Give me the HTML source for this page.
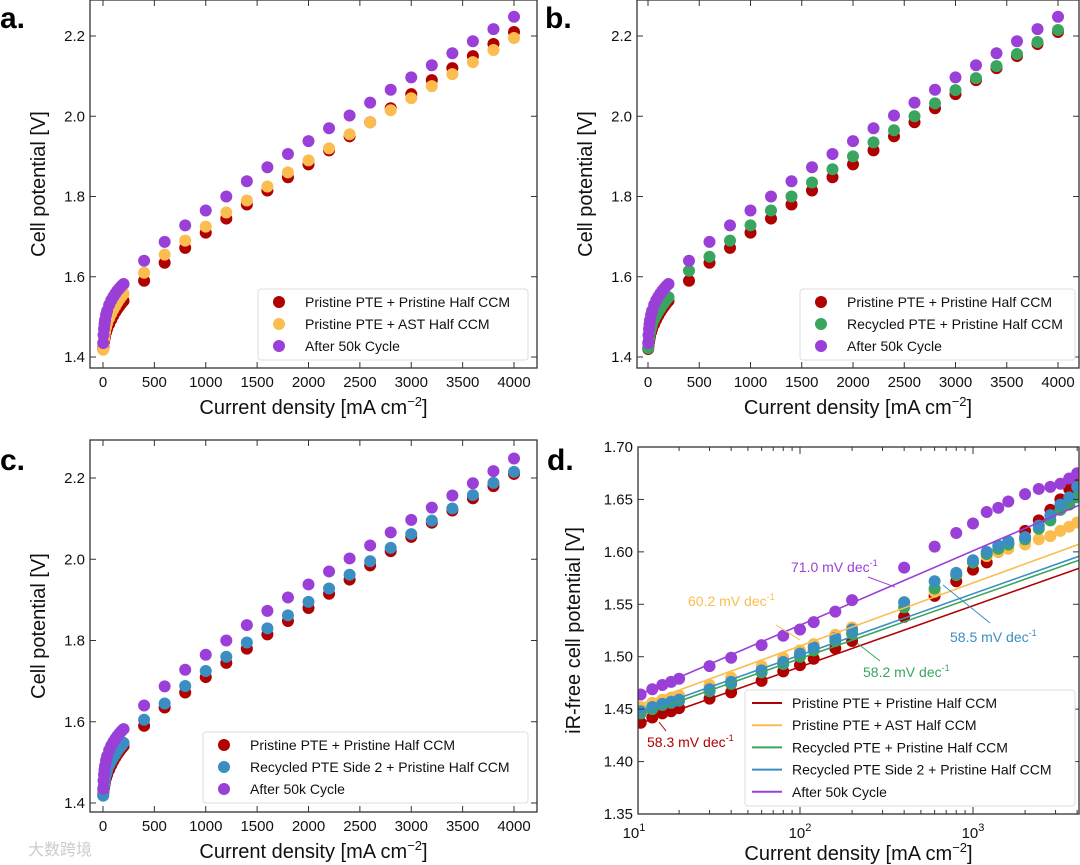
<!DOCTYPE html>
<html><head><meta charset="utf-8"><style>
html,body{margin:0;padding:0;background:#fff;}
svg{display:block;font-family:"Liberation Sans","Noto Sans CJK SC",sans-serif;}
</style></head><body>
<svg id="fig" width="1080" height="865" viewBox="0 0 1080 865" xmlns="http://www.w3.org/2000/svg"></svg>
<script>
// ---------- data ----------
const lowX = [2,5,10,15,20,30,40,60,80,100,120,140,160,180,200];
const highX = [400,600,800,1000,1200,1400,1600,1800,2000,2200,2400,2600,2800,3000,3200,3400,3600,3800,4000];
const xTicksLin = [0,500,1000,1500,2000,2500,3000,3500,4000];
const yTicksLin = [1.4,1.6,1.8,2.0,2.2];
const redLow = [1.420,1.428,1.437,1.445,1.452,1.462,1.470,1.482,1.493,1.503,1.512,1.520,1.527,1.534,1.540];
const redHigh = [1.590,1.635,1.672,1.710,1.745,1.780,1.815,1.848,1.880,1.915,1.950,1.985,2.020,2.055,2.090,2.120,2.150,2.180,2.210];
const yelLow = [1.418,1.432,1.444,1.454,1.462,1.474,1.484,1.497,1.508,1.518,1.527,1.536,1.544,1.551,1.558];
const yelHigh = [1.610,1.655,1.690,1.725,1.760,1.790,1.825,1.860,1.890,1.920,1.955,1.985,2.015,2.045,2.075,2.105,2.135,2.165,2.195];
const purLow = [1.435,1.455,1.470,1.482,1.492,1.505,1.515,1.530,1.541,1.550,1.558,1.565,1.571,1.577,1.582];
const purHigh = [1.640,1.687,1.728,1.765,1.800,1.838,1.873,1.906,1.938,1.970,2.002,2.034,2.066,2.097,2.127,2.157,2.187,2.217,2.248];
const grnLow = [1.422,1.434,1.445,1.454,1.461,1.472,1.481,1.494,1.504,1.513,1.521,1.529,1.536,1.543,1.549];
const grnHigh = [1.615,1.650,1.690,1.728,1.765,1.800,1.835,1.868,1.900,1.935,1.965,2.000,2.032,2.065,2.095,2.125,2.155,2.185,2.215];
const bluLow = [1.418,1.432,1.443,1.452,1.460,1.471,1.480,1.493,1.503,1.512,1.520,1.528,1.535,1.541,1.548];
const bluHigh = [1.605,1.645,1.688,1.725,1.760,1.795,1.830,1.862,1.895,1.928,1.962,1.995,2.028,2.062,2.095,2.125,2.158,2.188,2.215];
// panel d (Tafel)
const dX = [10,12,14,16,18,20,30,40,60,80,100,120,160,200,400,600,800,1000,1200,1400,1600,2000,2400,2800,3200,3600,4000,4500];
const dRed = [1.432,1.437,1.442,1.446,1.448,1.451,1.460,1.466,1.477,1.486,1.492,1.498,1.508,1.515,1.538,1.558,1.572,1.583,1.590,1.600,1.608,1.620,1.630,1.640,1.650,1.660,1.668,1.680];
const dYel = [1.448,1.452,1.456,1.459,1.461,1.463,1.473,1.480,1.491,1.499,1.506,1.512,1.521,1.528,1.552,1.562,1.578,1.590,1.596,1.600,1.603,1.607,1.612,1.615,1.620,1.624,1.628,1.633];
const dGrn = [1.441,1.446,1.450,1.454,1.456,1.458,1.467,1.474,1.485,1.493,1.500,1.506,1.515,1.522,1.547,1.565,1.578,1.590,1.598,1.603,1.607,1.612,1.622,1.630,1.640,1.645,1.652,1.660];
const dBlu = [1.443,1.448,1.452,1.455,1.457,1.459,1.469,1.476,1.487,1.495,1.503,1.509,1.518,1.526,1.552,1.572,1.580,1.592,1.600,1.606,1.610,1.614,1.625,1.635,1.645,1.652,1.662,1.670];
const dPur = [1.459,1.464,1.469,1.473,1.476,1.479,1.491,1.499,1.511,1.520,1.526,1.533,1.543,1.554,1.585,1.605,1.618,1.627,1.638,1.642,1.648,1.655,1.660,1.662,1.665,1.670,1.675,1.692];
const slopes = [58.3,60.2,58.2,58.5,71.0];
const intercepts = [1.432,1.450,1.440,1.443,1.459];
const dXTicks = [10,100,1000];
const dYTicks = [1.35,1.40,1.45,1.50,1.55,1.60,1.65,1.70];

const C = {red:'#b00000',yel:'#fbbd4f',grn:'#3aa55e',blu:'#3a8ec2',pur:'#9a3fd8'};
const NS='http://www.w3.org/2000/svg';
const svg=document.getElementById('fig');
function mk(tag,attrs,parent){const e=document.createElementNS(NS,tag);for(const k in attrs)e.setAttribute(k,attrs[k]);(parent||svg).appendChild(e);return e;}
function txt(s,x,y,size,attrs,parent){const t=mk('text',Object.assign({x:x,y:y,'font-size':size,fill:'#111'},attrs||{}),parent);t.textContent=s;return t;}

function linPanel(P){
  const g=mk('g',{});
  
  
  const sx=v=>P.x0+(v-0)*(P.x4000-P.x0)/4000;
  const sy=v=>P.y14+(v-1.4)*(P.y22-P.y14)/0.8;
  const f=mk('rect',{x:P.L,y:P.T,width:P.R-P.L,height:P.B-P.T,fill:'none',stroke:'#333','stroke-width':1.3},g);
  
  xTicksLin.forEach(v=>{const X=sx(v);
    mk('line',{x1:X,x2:X,y1:P.B,y2:P.B-6,stroke:'#333'},g);mk('line',{x1:X,x2:X,y1:P.T,y2:P.T+6,stroke:'#333'},g);
    const t=txt(String(v),X,P.B+19,15,{'text-anchor':'middle'},g);});
  yTicksLin.forEach(v=>{const Y=sy(v);
    mk('line',{x1:P.L,x2:P.L+6,y1:Y,y2:Y,stroke:'#333'},g);mk('line',{x1:P.R,x2:P.R-6,y1:Y,y2:Y,stroke:'#333'},g);
    const t=txt(v.toFixed(1),P.L-5,Y+5,15,{'text-anchor':'end'},g);});
  const xt=txt('',(P.L+P.R)/2,P.B+46,20,{'text-anchor':'middle'},g);
  xt.innerHTML='Current density [mA cm<tspan dy="-8" font-size="13">−2</tspan><tspan dy="8">]</tspan>';
  
  const yt=txt('Cell potential [V]',0,0,20,{'text-anchor':'middle',transform:`translate(${P.L-45},${(P.T+P.B)/2}) rotate(-90)`},g);
  
  const lb=txt(P.label,P.lx,P.ly,30,{'font-weight':'bold',fill:'#000'},g);
  
  P.series.forEach(s=>{
    lowX.forEach((x,i)=>{const c=mk('circle',{cx:sx(x),cy:sy(s.low[i]),r:6,fill:s.c},g);});
    highX.forEach((x,i)=>{const c=mk('circle',{cx:sx(x),cy:sy(s.high[i]),r:6,fill:s.c},g);});
  });
  const lg=mk('g',{},g);
  mk('rect',{x:P.lgx,y:P.lgy,width:P.lgw,height:71,fill:'#fff',stroke:'#ddd',rx:3},lg);
  P.series.forEach((s,i)=>{const Y=P.lgy+13+i*22;
    const e=mk('g',{},lg);
    mk('circle',{cx:P.lgx+21,cy:Y,r:6,fill:s.c},e);txt(s.n,P.lgx+47,Y+5,14,{},e);});
}
linPanel({name:'panel-a',label:'a.',lx:0,ly:28,L:90,R:537,T:0,B:368,x0:103,x4000:514,y14:357,y22:36,lgx:258,lgy:289,lgw:270,
  series:[{id:'pristine',c:C.red,low:redLow,high:redHigh,n:'Pristine PTE + Pristine Half CCM'},
          {id:'ast',c:C.yel,low:yelLow,high:yelHigh,n:'Pristine PTE + AST Half CCM'},
          {id:'after50k',c:C.pur,low:purLow,high:purHigh,n:'After 50k Cycle'}]});
linPanel({name:'panel-b',label:'b.',lx:545,ly:28,L:637,R:1079,T:0,B:368,x0:648,x4000:1058,y14:357,y22:36,lgx:800,lgy:289,lgw:275,
  series:[{id:'pristine',c:C.red,low:redLow,high:redHigh,n:'Pristine PTE + Pristine Half CCM'},
          {id:'recycled',c:C.grn,low:grnLow,high:grnHigh,n:'Recycled PTE + Pristine Half CCM'},
          {id:'after50k',c:C.pur,low:purLow,high:purHigh,n:'After 50k Cycle'}]});
linPanel({name:'panel-c',label:'c.',lx:0,ly:470,L:90,R:537,T:440,B:812,x0:103,x4000:514,y14:803,y22:478,lgx:203,lgy:732,lgw:325,
  series:[{id:'pristine',c:C.red,low:redLow,high:redHigh,n:'Pristine PTE + Pristine Half CCM'},
          {id:'recycled-side2',c:C.blu,low:bluLow,high:bluHigh,n:'Recycled PTE Side 2 + Pristine Half CCM'},
          {id:'after50k',c:C.pur,low:purLow,high:purHigh,n:'After 50k Cycle'}]});

// ---------- panel d ----------
(function(){
  const L=638,R=1079,T=447,B=814;
  const sx=v=>800+(Math.log10(v)-2)*173;
  const sy=v=>B-(v-1.35)*(B-T)/0.35;
  const g=mk('g',{});
  const lb=txt('d.',547,470,30,{'font-weight':'bold',fill:'#000'},g);
  const clip=mk('clipPath',{id:'dclip'},g);mk('rect',{x:L,y:T,width:R-L,height:B-T},clip);
  const pg=mk('g',{'clip-path':'url(#dclip)'},g);
  const ser=[{id:'pristine',c:C.red,d:dRed,n:'Pristine PTE + Pristine Half CCM'},
             {id:'ast',c:C.yel,d:dYel,n:'Pristine PTE + AST Half CCM'},
             {id:'recycled',c:C.grn,d:dGrn,n:'Recycled PTE + Pristine Half CCM'},
             {id:'recycled-side2',c:C.blu,d:dBlu,n:'Recycled PTE Side 2 + Pristine Half CCM'},
             {id:'after50k',c:C.pur,d:dPur,n:'After 50k Cycle'}];
  ser.forEach(s=>{dX.forEach((x,i)=>{const c=mk('circle',{cx:sx(x),cy:sy(s.d[i]),r:6,fill:s.c},pg);});});
  ser.forEach((s,i)=>{const y1=intercepts[i],y2=intercepts[i]+slopes[i]/1000*Math.log10(450);
    const l=mk('line',{x1:sx(10),y1:sy(y1),x2:sx(4500),y2:sy(y2),stroke:s.c,'stroke-width':1.6},pg);});
  mk('rect',{x:L,y:T,width:R-L,height:B-T,fill:'none',stroke:'#333','stroke-width':1.3},g);
  dXTicks.forEach((v,i)=>{const X=Math.max(sx(v),L);mk('line',{x1:X,x2:X,y1:B,y2:B-7,stroke:'#333'},g);mk('line',{x1:X,x2:X,y1:T,y2:T+7,stroke:'#333'},g);
    const t=txt('',Math.max(sx(v),L-4),B+24,15,{'text-anchor':'middle'},g);t.innerHTML='10<tspan dy="-7" font-size="11">'+(i+1)+'</tspan>';});
  for(let d=1;d<=3;d++)for(let m=2;m<=9;m++){const v=m*Math.pow(10,d);if(v>4500)continue;const X=sx(v);if(X<L)continue;
    mk('line',{x1:X,x2:X,y1:B,y2:B-4,stroke:'#333'},g);mk('line',{x1:X,x2:X,y1:T,y2:T+4,stroke:'#333'},g);}
  dYTicks.forEach(v=>{const Y=sy(v);mk('line',{x1:L,x2:L+6,y1:Y,y2:Y,stroke:'#333'},g);mk('line',{x1:R,x2:R-6,y1:Y,y2:Y,stroke:'#333'},g);
    const t=txt(v.toFixed(2),L-5,Y+5,15,{'text-anchor':'end'},g);});
  const xt=txt('',(L+R)/2,B+46,20,{'text-anchor':'middle'},g);
  xt.innerHTML='Current density [mA cm<tspan dy="-8" font-size="13">−2</tspan><tspan dy="8">]</tspan>';
  
  const yt=txt('iR-free cell potential [V]',0,0,20,{'text-anchor':'middle',transform:`translate(${L-58},${(T+B)/2}) rotate(-90)`},g);
  
  const ann=[{t:'71.0 mV dec',c:C.pur,x:791,y:572,lx1:868,ly1:577,lx2:895,ly2:587},
             {t:'60.2 mV dec',c:C.yel,x:688,y:606,lx1:776,ly1:625,lx2:800,ly2:640},
             {t:'58.2 mV dec',c:C.grn,x:863,y:677,lx1:880,ly1:661,lx2:857,ly2:643},
             {t:'58.5 mV dec',c:C.blu,x:950,y:642,lx1:990,ly1:623,lx2:943,ly2:585},
             {t:'58.3 mV dec',c:C.red,x:647,y:747,lx1:666,ly1:731,lx2:659,ly2:722}];
  ann.forEach(a=>{const e=mk('g',{},g);
    mk('line',{x1:a.lx1,y1:a.ly1,x2:a.lx2,y2:a.ly2,stroke:a.c,'stroke-width':1},e);
    const t=txt('',a.x,a.y,14,{fill:a.c},e);t.innerHTML=a.t+'<tspan dy="-6" font-size="9">-1</tspan>';});
  const lg=mk('g',{},g);
  mk('rect',{x:745,y:690,width:330,height:116,fill:'#fff',stroke:'#ddd',rx:3},lg);
  ser.forEach((s,i)=>{const Y=703+i*22.2;const e=mk('g',{},lg);
    mk('line',{x1:752,x2:782,y1:Y,y2:Y,stroke:s.c,'stroke-width':2},e);txt(s.n,792,Y+5,14,{},e);});
})();
const wm=txt('大数跨境',28,855,16,{fill:'#ccc'});


</script>
</body></html>
